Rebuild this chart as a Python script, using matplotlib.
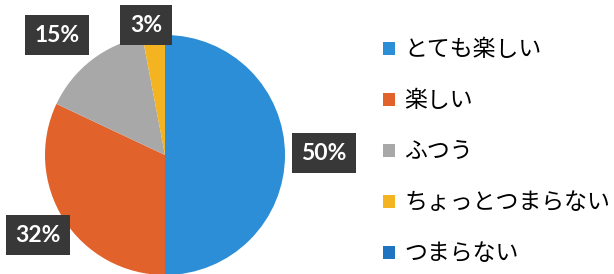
import matplotlib.pyplot as plt

labels = ["とても楽しい", "楽しい", "ふつう", "ちょっとつまらない", "つまらない"]
values = [50, 32, 15, 3, 0]
colors = ["#2b8ed6", "#e2622c", "#a8a8a8", "#f4b320", "#1f74c2"]

# where each percentage box sits (pixels from top-left), 0% is not shown
label_pos = [(324, 153), (38, 235), (57, 35), (146, 25), None]

W, H = 614, 274
fig = plt.figure(figsize=(W / 100, H / 100), dpi=100)
ax = fig.add_axes([0, 0, 1, 1])

wedges, _ = ax.pie(values, colors=colors, startangle=90, counterclock=False,
                   center=(165, H - 155), radius=120, frame=True,
                   wedgeprops=dict(linewidth=0))
ax.set_xlim(0, W)
ax.set_ylim(0, H)
ax.set_aspect("equal")
ax.axis("off")

for v, pos in zip(values, label_pos):
    if pos is None:
        continue
    ax.text(pos[0], H - pos[1], f"{v}%", ha="center", va="center",
            fontsize=16.5, fontweight="bold", family="Lato", color="white",
            bbox=dict(boxstyle="square,pad=0.42", fc="#383838", ec="none"))

leg = fig.legend(wedges, labels, loc="upper left",
                 bbox_to_anchor=(372 / W, 1 - 27 / H), frameon=False,
                 prop={"family": ["Noto Sans CJK JP", "DejaVu Sans"], "size": 16.5},
                 handlelength=0.5, handleheight=0.5, handletextpad=0.4,
                 labelspacing=1.22, borderpad=0)

fig.savefig("out.png", dpi=100, facecolor="white")
